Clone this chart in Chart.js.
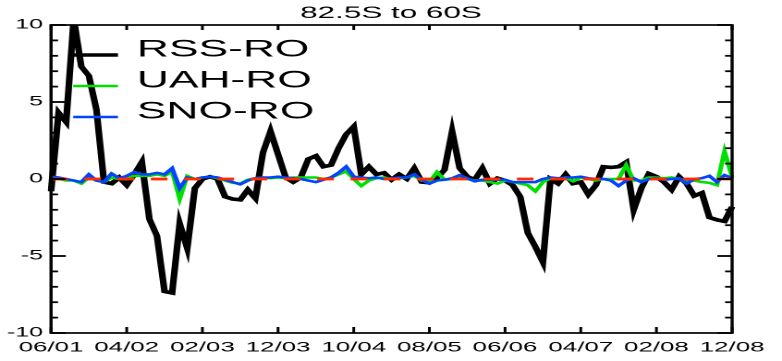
<!DOCTYPE html>
<html><head><meta charset="utf-8">
<script src="https://cdn.jsdelivr.net/npm/chart.js@4"></script>
<style>
html,body{margin:0;padding:0;background:#fff;overflow:hidden;width:782px;height:361px;}
#wrap{position:absolute;left:0;top:0;width:423px;height:361px;transform:scaleX(1.8487);transform-origin:0 0;}
</style></head><body>
<div id="wrap"><canvas id="c" width="423" height="361"></canvas></div>
<script>
// Monthly categories June 2001 .. December 2008
const months = [];
for (let y = 2001; y <= 2008; y++) {
  for (let m = 1; m <= 12; m++) {
    if (y === 2001 && m < 6) continue;
    months.push(String(m).padStart(2,'0') + '/' + String(y % 100).padStart(2,'0'));
  }
}
const tickLabels = ['06/01','04/02','02/03','12/03','10/04','08/05','06/06','04/07','02/08','12/08'];
const title = '82.5S to 60S';
const yMin = -10, yMax = 10, yMajorStep = 5, yMinorStep = 1;
const referenceLevel = 0;

const rssRO = [-0.8,4.3,3.7,10.4,7.3,6.7,4.5,-0.2,-0.3,0.1,
  -0.4,0.3,1.1,-2.6,-3.7,-7.3,-7.4,-2.9,-4.5,-0.6,
  0.0,0.15,0.0,-1.15,-1.3,-1.35,-0.7,-1.25,1.7,3.1,
  1.6,0.1,-0.2,0.1,1.3,1.5,0.8,0.9,2.0,2.9,
  3.4,0.3,0.8,0.3,0.4,-0.05,0.3,0.0,0.7,-0.2,
  -0.25,0.05,0.6,3.1,0.7,0.15,-0.05,0.7,-0.3,0.05,
  -0.1,-0.4,-1.15,-3.5,-4.4,-5.4,0.0,-0.3,0.3,-0.3,
  -0.2,-1.0,-0.4,0.8,0.75,0.8,1.1,-2.0,-0.6,0.35,
  0.15,-0.2,-0.7,0.15,-0.3,-1.1,-0.9,-2.5,-2.65,-2.75,
  -1.8];
const uahRO = [0.1,0.0,-0.1,-0.1,-0.3,0.1,-0.1,-0.2,0.1,0.0,
  0.1,0.2,0.2,0.2,0.3,0.2,0.5,-1.3,0.2,0.0,
  0.1,0.15,0.05,-0.1,-0.25,-0.3,-0.05,0.05,0.1,0.05,
  0.1,0.05,0.1,0.1,0.1,0.1,0.0,0.1,0.3,0.5,
  0.0,-0.45,-0.1,0.05,0.1,0.0,0.05,0.1,0.2,-0.1,
  -0.2,0.45,-0.05,0.0,0.15,0.0,-0.1,-0.1,-0.2,-0.3,
  -0.1,-0.2,-0.3,-0.4,-0.8,-0.2,0.05,0.0,0.1,-0.15,
  0.1,0.0,-0.1,0.0,0.0,0.0,0.9,-0.1,-0.1,0.1,
  0.1,0.05,0.1,0.0,-0.1,-0.1,-0.2,-0.25,-0.4,1.8,
  0.1];
const snoRO = [0.15,0.1,0.0,-0.1,-0.2,0.3,-0.1,-0.2,0.35,0.05,
  0.2,0.45,0.3,0.3,0.4,0.3,0.7,-0.6,0.1,0.0,
  0.1,0.15,0.1,-0.05,-0.2,-0.35,-0.1,0.05,0.1,0.1,
  0.15,0.1,0.05,0.0,-0.1,-0.2,-0.05,0.1,0.4,0.8,
  0.15,0.1,0.05,0.1,0.0,0.05,0.1,0.1,0.3,-0.05,
  -0.3,-0.1,-0.05,0.05,0.25,0.05,-0.15,-0.05,-0.05,-0.05,
  -0.05,-0.2,-0.2,-0.2,-0.2,0.0,0.1,0.05,0.1,0.1,
  0.15,0.05,0.0,0.0,-0.1,-0.45,-0.1,0.05,-0.2,0.0,
  0.05,-0.05,0.0,0.05,-0.3,0.0,0.05,0.2,-0.2,0.25,
  0.05];

const FONT = "'Liberation Sans', Arial, Helvetica, sans-serif";

const framePlugin = {
  id: 'frame',
  afterDatasetsDraw(chart) {
    const {ctx, chartArea: a, scales: {x, y}} = chart;
    const line = (x1,y1,x2,y2) => { ctx.beginPath(); ctx.moveTo(x1,y1); ctx.lineTo(x2,y2); ctx.stroke(); };
    ctx.save();
    ctx.strokeStyle = '#000';
    ctx.lineCap = 'butt';
    // x ticks (inside, bottom and top)
    ctx.lineWidth = 1.5;
    x.ticks.forEach((t, i) => {
      const lbl = months[t.value];
      if (!tickLabels.includes(lbl)) return;
      const px = x.getPixelForTick(i);
      line(px, a.bottom, px, a.bottom - 6);
      line(px, a.top, px, a.top + 5);
    });
    // y ticks major/minor (inside, left and right)
    ctx.lineWidth = 1.8;
    for (let v = yMin; v <= yMax; v += yMinorStep) {
      const py = y.getPixelForValue(v);
      const len = (v % yMajorStep === 0) ? 8 : 3.8;
      line(a.left, py, a.left + len, py);
      line(a.right, py, a.right - len, py);
    }
    // frame
    ctx.lineWidth = 1.7;
    ctx.strokeRect(a.left, a.top, a.right - a.left, a.bottom - a.top);
    // legend
    const items = chart.data.datasets.filter(d => d.showInLegend);
    items.forEach((d, k) => {
      const ly = a.top + 30 + k * 31;
      ctx.strokeStyle = d.borderColor;
      ctx.lineWidth = d.borderWidth;
      line(a.left + 12, ly, a.left + 36.2, ly);
      ctx.fillStyle = '#000';
      ctx.font = '24px ' + FONT;
      ctx.textBaseline = 'alphabetic';
      ctx.textAlign = 'left';
      ctx.fillText(d.label, a.left + 46.4, ly + 1.5);
    });
    ctx.restore();
  }
};

new Chart(document.getElementById('c'), {
  type: 'line',
  data: {
    labels: months,
    datasets: [
      {label: 'RSS-RO', data: rssRO, borderColor: '#000000', borderWidth: 3.6, order: 4, showInLegend: true},
      {label: 'UAH-RO', data: uahRO, borderColor: '#00e000', borderWidth: 2.5, order: 3, showInLegend: true},
      {label: 'SNO-RO', data: snoRO, borderColor: '#0044ff', borderWidth: 2.5, order: 2, showInLegend: true},
      {label: 'zero', data: [{x: months[0], y: referenceLevel}, {x: months[months.length-1], y: referenceLevel}],
       borderColor: '#ff2a00', borderWidth: 2.8, borderDash: [9, 9], order: 1, showInLegend: false}
    ].map(d => Object.assign({pointRadius: 0, tension: 0, fill: false, borderJoinStyle: 'miter', borderCapStyle: 'butt'}, d))
  },
  options: {
    responsive: false,
    animation: false,
    devicePixelRatio: 2,
    layout: {padding: 0},
    plugins: {
      legend: {display: false},
      tooltip: {enabled: false},
      title: {display: true, text: title, color: '#000', font: {family: FONT, size: 17, weight: 'normal', lineHeight: 1.2}, padding: {top: 3, bottom: 1.6}}
    },
    scales: {
      x: {
        type: 'category',
        grid: {display: false, drawTicks: false},
        border: {display: false},
        ticks: {
          autoSkip: false, maxRotation: 0, minRotation: 0, padding: 6.2,
          color: '#000', font: {family: FONT, size: 14},
          callback(v) { const l = this.getLabelForValue(v); return tickLabels.includes(l) ? l : ''; }
        },
        afterFit(s) { s.height = 28; }
      },
      y: {
        position: 'left',
        min: yMin, max: yMax,
        grid: {display: false, drawTicks: false},
        border: {display: false},
        ticks: {stepSize: yMajorStep, padding: 4.3, color: '#000', font: {family: FONT, size: 13.5}},
        afterFit(s) { s.width = 27.6; }
      },
      yRight: {
        position: 'right',
        min: yMin, max: yMax,
        grid: {display: false, drawTicks: false},
        border: {display: false},
        ticks: {display: false},
        afterFit(s) { s.width = 27; }
      }
    }
  },
  plugins: [framePlugin]
});
</script>
</body></html>
